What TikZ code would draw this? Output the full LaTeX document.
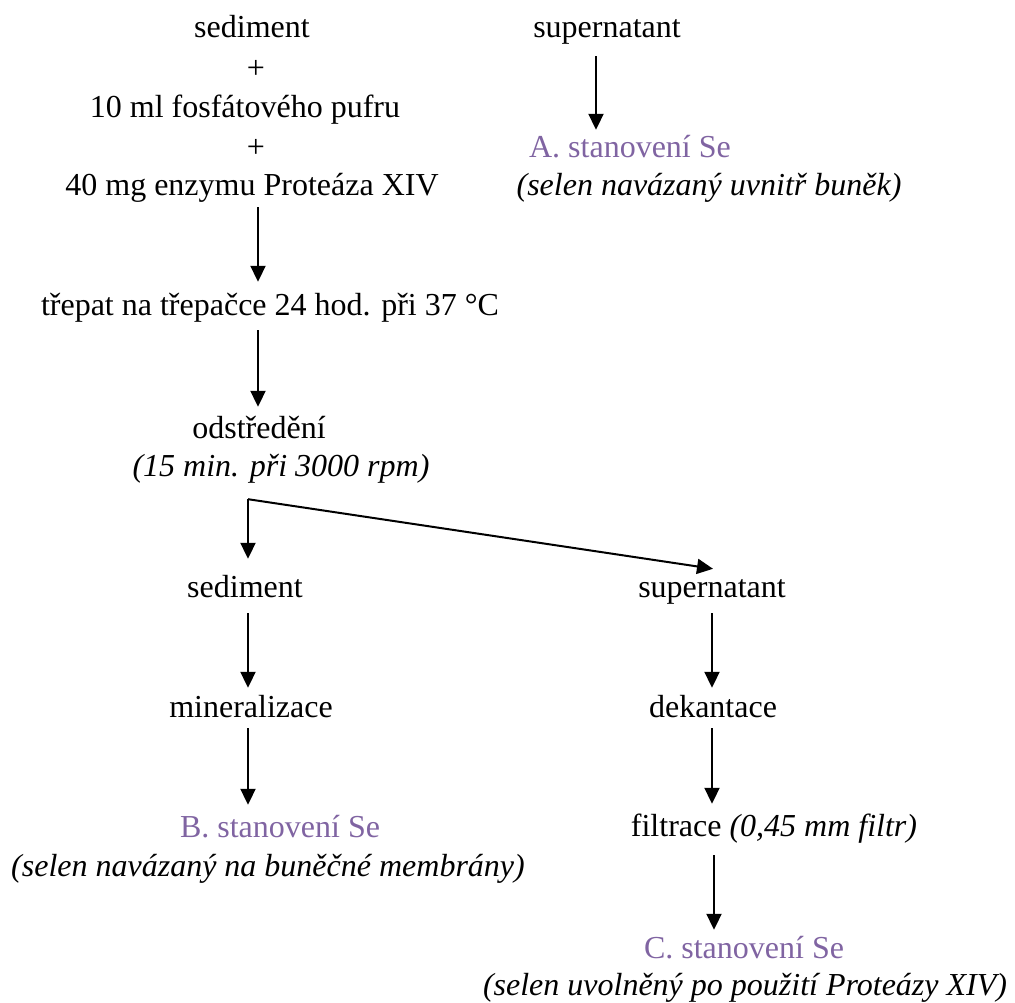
\documentclass[tikz,border=0pt]{standalone}
\usepackage{fontspec}
\setmainfont{Liberation Serif}
\usetikzlibrary{arrows.meta,calc}
\definecolor{resp}{HTML}{8064A2}
\begin{document}
\begin{tikzpicture}[x=1pt,y=-1pt,
  txt/.style={anchor=base, inner sep=0pt, text height=22pt, text depth=7pt, font=\fontsize{32}{38}\selectfont},
  itx/.style={txt, font=\fontsize{32}{38}\selectfont\itshape},
  res/.style={txt, text=resp},
  arr/.style={line width=2pt, -{Triangle[length=16pt,width=15pt]}}]
\useasboundingbox (0,0) rectangle (1015,1003);
% column x positions for arrows
\coordinate (xA) at (258,0);
\coordinate (xL) at (248,0);
\coordinate (xR) at (712,0);
\coordinate (xF) at (714,0);
\coordinate (xT) at (596,0);
% left top
\node[txt] (sed1) at (252,38) {sediment};
\node[txt] (plus1) at (256,79) {+};
\node[txt] (fosf) at (245,118) {10 ml fosfátového pufru};
\node[txt] (plus2) at (256,158) {+};
\node[txt] (enz) at (252,196) {40 mg enzymu Proteáza XIV};
\node[txt] (trep) at (270,316) {třepat na třepačce 24 hod. při 37 °C};
\node[txt] (odst) at (259,438) {odstředění};
\node[itx] (rpm) at (281,476) {(15 min. při 3000 rpm)};
% right top
\node[txt] (sup1) at (607,38) {supernatant};
\node[res] (Ast) at (630,158) {A. stanovení Se};
\node[itx] (Asel) at (709,196) {(selen navázaný uvnitř buněk)};
% lower
\node[txt] (sed2) at (245,597) {sediment};
\node[txt] (sup2) at (712,597) {supernatant};
\node[txt] (mine) at (251,717) {mineralizace};
\node[txt] (deka) at (713,717) {dekantace};
\node[res] (Bst) at (280,837) {B. stanovení Se};
\node[itx] (Bsel) at (268,876) {(selen navázaný na buněčné membrány)};
\node[txt] (filt) at (774,836) {filtrace \textit{(0,45 mm filtr)}};
\node[res] (Cst) at (744,958) {C. stanovení Se};
\node[itx] (Csel) at (745,995) {(selen uvolněný po použití Proteázy XIV)};
% arrows
\draw[arr, shorten <=11pt, shorten >=6pt] (sup1.south -| xT) -- (Ast.north -| xT);
\draw[arr, shorten <=4pt, shorten >=12pt] (enz.south -| xA) -- (trep.north -| xA);
\draw[arr, shorten <=7pt, shorten >=9pt] (trep.south -| xA) -- (odst.north -| xA);
\coordinate (split) at ($(rpm.south -| xL)+(0,16)$);
\draw[arr, shorten >=16pt] (split) -- (sed2.north -| xL);
\draw[arr] (split) -- ($(sup2.north -| xR)+(1,-6)$);
\draw[arr, shorten <=9pt, shorten >=7pt] (sed2.south -| xL) -- (mine.north -| xL);
\draw[arr, shorten <=4pt, shorten >=10pt] (mine.south -| xL) -- (Bst.north -| xL);
\draw[arr, shorten <=9pt, shorten >=7pt] (sup2.south -| xR) -- (deka.north -| xR);
\draw[arr, shorten <=4pt, shorten >=10pt] (deka.south -| xR) -- (filt.north -| xR);
\draw[arr, shorten <=12pt, shorten >=6pt] (filt.south -| xF) -- (Cst.north -| xF);
\end{tikzpicture}
\end{document}
